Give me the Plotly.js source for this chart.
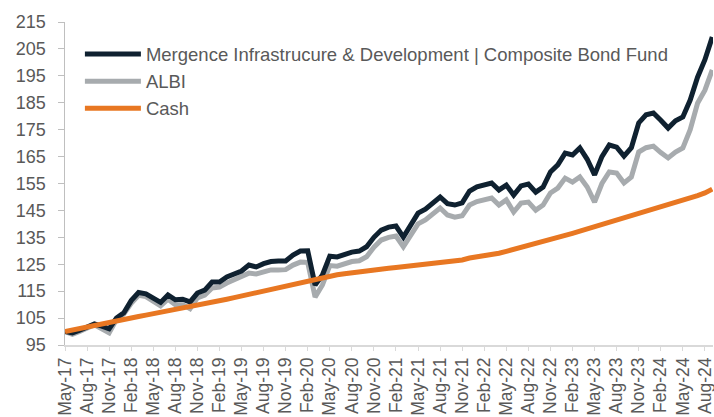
<!DOCTYPE html>
<html>
<head>
<meta charset="utf-8">
<script src="https://cdn.plot.ly/plotly-3.0.1.min.js"></script>
<style>html,body{margin:0;padding:0;background:#fff}#chart{width:714px;height:417px}</style>
</head>
<body>
<div id="chart"></div>
<script>
// Monthly observations May-17 .. Sep-24
const months = ["May-17","Jun-17","Jul-17","Aug-17","Sep-17","Oct-17","Nov-17","Dec-17","Jan-18","Feb-18","Mar-18","Apr-18",
"May-18","Jun-18","Jul-18","Aug-18","Sep-18","Oct-18","Nov-18","Dec-18","Jan-19","Feb-19","Mar-19","Apr-19",
"May-19","Jun-19","Jul-19","Aug-19","Sep-19","Oct-19","Nov-19","Dec-19","Jan-20","Feb-20","Mar-20","Apr-20",
"May-20","Jun-20","Jul-20","Aug-20","Sep-20","Oct-20","Nov-20","Dec-20","Jan-21","Feb-21","Mar-21","Apr-21",
"May-21","Jun-21","Jul-21","Aug-21","Sep-21","Oct-21","Nov-21","Dec-21","Jan-22","Feb-22","Mar-22","Apr-22",
"May-22","Jun-22","Jul-22","Aug-22","Sep-22","Oct-22","Nov-22","Dec-22","Jan-23","Feb-23","Mar-23","Apr-23",
"May-23","Jun-23","Jul-23","Aug-23","Sep-23","Oct-23","Nov-23","Dec-23","Jan-24","Feb-24","Mar-24","Apr-24",
"May-24","Jun-24","Jul-24","Aug-24","Sep-24"];

const fund = [100,99.5,100.5,101.5,102.8,102,101,105,107,111.5,114.5,114,
112.3,110.8,113.6,111.8,112,111,114.3,115.4,118.4,118.4,120.3,121.4,
122.5,124.7,124,125.2,126,126.2,126.2,128.4,129.9,130,117.3,121,
128,127.7,128.6,129.5,129.9,131.5,135,137.7,138.8,139.2,135.1,139.5,
144,145.5,147.7,150,147.5,147,147.8,152.2,153.8,154.6,155.2,152.6,
154.4,150.7,154.1,154.8,151.8,153.7,159.3,161.9,166.3,165.6,168.2,164,
158.2,165,169.3,168.5,165.2,168.3,177.5,180.5,181.2,178.5,175.6,178.3,
179.7,186,194.5,201,209.4];

const albi = [100,99,100,101.5,102.5,101,99.5,104.5,106.5,110.5,113.5,113,
111,109.5,112,110,110,108.5,112.5,113.5,116.2,116.5,118,119.1,
120.2,121.7,121.4,122.3,122.9,122.9,123,124.7,125.8,125.7,112.8,117.3,
124.5,124.3,125.2,126,126.3,127.8,131.3,134,135,135.5,131.5,135.6,
140,141.5,143.5,145.9,143.3,142.5,143,147,148.3,149,149.6,147,
148.9,144.4,147.7,148.1,145.1,147,151.5,153.3,157,155.5,157.4,153.7,
148.1,155,159.3,158.9,155.2,157.4,166.7,168.3,168.9,166.5,164.5,166.7,
168.2,175,184.8,189.7,197.2];

const cash = [100,100.6,101.2,101.8,102.4,103,103.5,104,104.5,105.1,105.6,106.1,
106.6,107.2,107.7,108.2,108.7,109.3,109.8,110.4,110.9,111.5,112,112.6,
113.2,113.8,114.4,115,115.6,116.2,116.8,117.4,118,118.8,119.5,120.2,
120.7,121.1,121.5,121.9,122.3,122.6,122.9,123.2,123.5,123.8,124.1,124.4,
124.7,125,125.3,125.6,125.9,126.2,126.6,127.3,127.7,128.1,128.6,129.1,
129.8,130.5,131.2,131.9,132.6,133.3,134.1,134.9,135.7,136.5,137.3,138.1,
138.9,139.7,140.5,141.3,142.1,142.9,143.7,144.5,145.3,146.1,147.0,147.8,
148.7,149.6,150.5,151.5,152.9];

const yTicks = [95,105,115,125,135,145,155,165,175,185,195,205,215];
const xTickIdx = [];
for (let i = 0; i < months.length; i += 3) xTickIdx.push(i);
const xTickText = xTickIdx.map(i => months[i]);
const idx = months.map((m, i) => i);

const seriesNames = ["Mergence Infrastrucure & Development | Composite Bond Fund", "ALBI", "Cash"];
const colors = ["#0f2130", "#a7abae", "#e87722"];

const font = "Arial, 'Liberation Sans', sans-serif";
const traces = [
  {x: idx, y: albi, name: seriesNames[1], type: "scatter", mode: "lines", line: {color: colors[1], width: 5}, legendrank: 2},
  {x: idx, y: fund, name: seriesNames[0], type: "scatter", mode: "lines", line: {color: colors[0], width: 5}, legendrank: 1},
  {x: idx, y: cash, name: seriesNames[2], type: "scatter", mode: "lines", line: {color: colors[2], width: 5}, legendrank: 3}
];

const layout = {
  width: 714, height: 417,
  margin: {l: 65, r: 1, t: 22, b: 72},
  paper_bgcolor: "#fff", plot_bgcolor: "#fff",
  font: {family: font, size: 18, color: "#595959"},
  showlegend: true,
  legend: {x: 0.023, y: 0.958, xanchor: "left", yanchor: "top", bgcolor: "rgba(0,0,0,0)",
           font: {family: font, size: 18.5, color: "#595959"}, itemwidth: 56, tracegroupgap: 0},
  xaxis: {
    range: [0, 88.1], tickmode: "array", tickvals: xTickIdx, ticktext: xTickText,
    tickangle: -90, ticks: "outside", ticklen: 4, tickcolor: "#d9d9d9",
    showline: true, linecolor: "#d9d9d9", linewidth: 1.5, showgrid: false, zeroline: false,
    ticklabeloverflow: "allow",
    tickfont: {family: font, size: 17.5, color: "#595959"}, fixedrange: true
  },
  yaxis: {
    range: [95, 215], tickmode: "array", tickvals: yTicks,
    ticks: "outside", ticklen: 6, tickcolor: "#bfbfbf",
    showline: true, linecolor: "#bfbfbf", linewidth: 1.5, showgrid: false, zeroline: false,
    tickfont: {family: font, size: 18, color: "#595959"}, ticklabelstandoff: 8, fixedrange: true
  }
};

Plotly.newPlot("chart", traces, layout, {staticPlot: true, displayModeBar: false});
</script>
</body>
</html>
